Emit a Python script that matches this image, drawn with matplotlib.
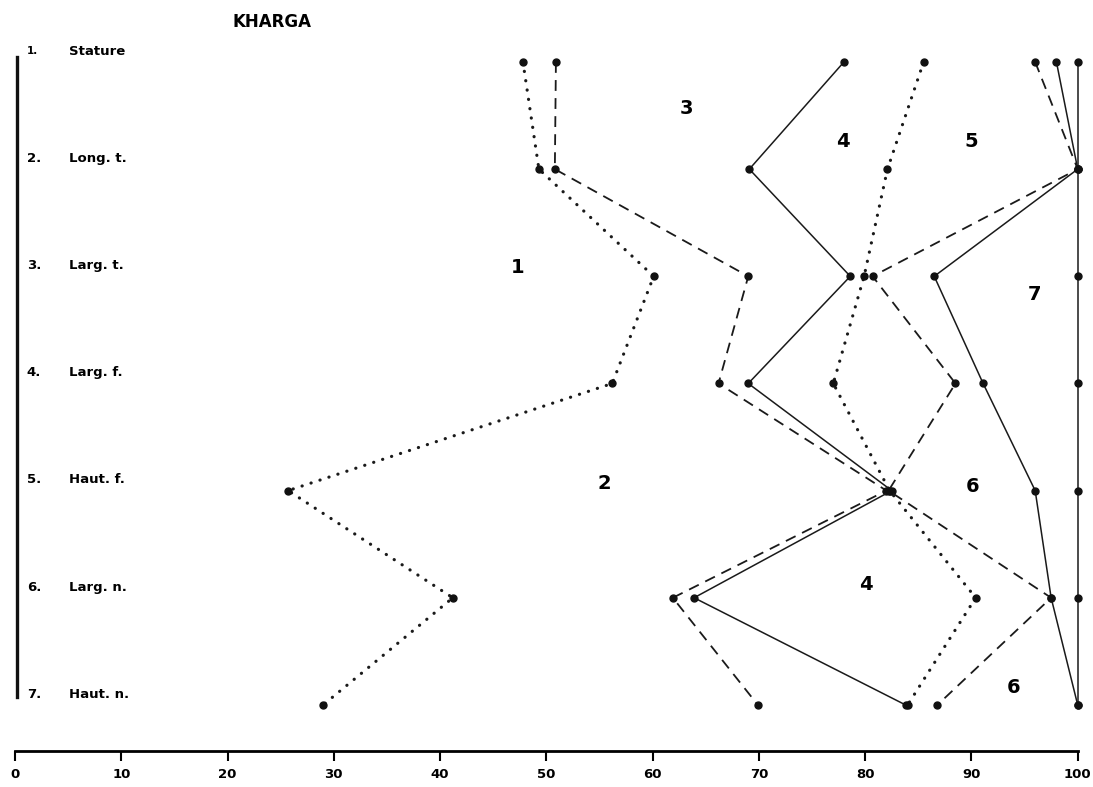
import matplotlib.pyplot as plt

plt.rcParams["font.family"] = ["DejaVu Sans"]

rows = [1, 2, 3, 4, 5, 6, 7]
row_labels = ["Stature", "Long. t.", "Larg. t.", "Larg. f.", "Haut. f.", "Larg. n.", "Haut. n."]

# percentages, one list per profile
dotted_a = [47.8, 49.3, 60.1, 56.2, 25.7, 41.2, 29.0]
dashed_b = [50.9, 50.8, 69.0, 66.2, 82.0, 61.9, 69.9]
solid_c = [78.0, 69.1, 78.6, 69.0, 82.5, 63.9, 83.8]
dotted_d = [85.5, 82.1, 79.9, 77.0, 82.3, 90.4, 84.0]
dashed_e = [96.0, 100.0, 80.7, 88.5, 82.2, 97.5, 86.8]
solid_f = [98.0, 100.0, 86.5, 91.1, 96.0, 97.5, 100.0]
solid_g = [100.0] * 7

# zone numbers written between the profiles
zone_text = ["1", "2", "3", "4", "5", "7", "6", "4", "6"]
zone_x = [47.3, 55.5, 63.2, 77.9, 90.0, 95.9, 90.1, 80.1, 94.0]
zone_y = [2.92, 4.93, 1.43, 1.74, 1.74, 3.17, 4.96, 5.88, 6.84]

ticks = list(range(0, 101, 10))

W, H = 1093, 787
fig = plt.figure(figsize=(W / 100, H / 100), dpi=100)
x0, x1 = 15, 1077.7
ytop, ybot = 62, 751
ax = fig.add_axes([x0 / W, 1 - ybot / H, (x1 - x0) / W, (ybot - ytop) / H])
ax.set_xlim(0, 100)
ax.set_ylim(7.43, 1)

dot = dict(linestyle=(0, (0.05, 2.9)), linewidth=2.3, dash_capstyle="round")
dash = dict(linestyle=(0, (6, 4)), linewidth=1.3)
solid = dict(linestyle="-", linewidth=1.1)

for xs, st in [(dotted_a, dot), (dashed_b, dash), (solid_c, solid),
               (dotted_d, dot), (dashed_e, dash), (solid_f, solid), (solid_g, solid)]:
    ax.plot(xs, rows, color="#1a1a1a", clip_on=False, **st)
    ax.plot(xs, rows, "o", color="#111111", markersize=5, clip_on=False)

for t, x, y in zip(zone_text, zone_x, zone_y):
    ax.text(x, y, t, fontsize=14, fontweight="bold", ha="center", va="center")

# row labels on the left
for r, lab in zip(rows, row_labels):
    ax.text(1.1, r - 0.1, f"{r}.", fontsize=7.5 if r == 1 else 9.5,
            fontweight="bold", va="center", ha="left")
    ax.text(5.1, r - 0.1, lab, fontsize=9.5, fontweight="bold", va="center", ha="left")

ax.plot([0.2, 0.2], [0.95, 6.93], color="#111111", linewidth=2.4, clip_on=False)
ax.text(20.5, 0.63, "KHARGA", fontsize=12, fontweight="bold", ha="left", va="center")

for s in ["top", "right", "left"]:
    ax.spines[s].set_visible(False)
ax.spines["bottom"].set_linewidth(2.0)
ax.set_yticks([])
ax.set_xticks(ticks)
ax.set_xticklabels([str(t) for t in ticks], fontsize=9.5, fontweight="bold")
ax.tick_params(axis="x", direction="out", length=7, width=1.5, pad=5)

fig.savefig("out.png", dpi=100)
